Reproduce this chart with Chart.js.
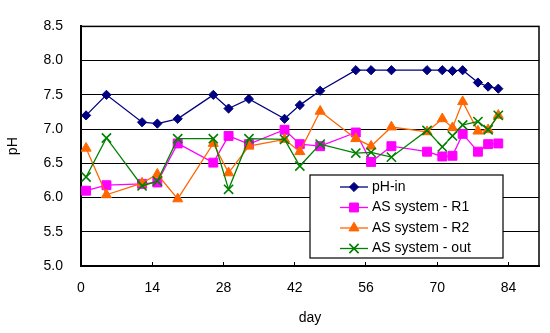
<!DOCTYPE html>
<html>
<head>
<meta charset="utf-8">
<script src="https://cdn.jsdelivr.net/npm/chart.js@4/dist/chart.umd.min.js"></script>
<style>
  body { margin: 0; background: #fff; }
  canvas { display: block; }
</style>
</head>
<body>
<canvas id="phChart" width="550" height="333"></canvas>
<script>
// days of sampling
const days = [1, 5, 12, 15, 19, 26, 29, 33, 40, 43, 47, 54, 57, 61, 68, 71, 73, 75, 78, 80, 82];

const phIn = [7.20, 7.50, 7.10, 7.08, 7.15, 7.50, 7.30, 7.44, 7.15, 7.35, 7.56, 7.86, 7.86, 7.86, 7.86, 7.86, 7.85, 7.86, 7.68, 7.62, 7.59];
const asR1 = [6.10, 6.18, 6.20, 6.22, 6.79, 6.51, 6.90, 6.78, 6.99, 6.78, 6.75, 6.95, 6.52, 6.75, 6.67, 6.60, 6.61, 6.93, 6.67, 6.78, 6.79];
const asR2 = [6.72, 6.04, 6.21, 6.34, 5.98, 6.79, 6.36, 6.75, 6.85, 6.67, 7.26, 6.86, 6.75, 7.03, 6.96, 7.15, 7.02, 7.40, 6.97, 6.99, 7.20];
const asOut = [6.30, 6.87, 6.17, 6.24, 6.86, 6.86, 6.12, 6.86, 6.85, 6.46, 6.78, 6.65, 6.66, 6.59, 6.98, 6.74, 6.90, 7.06, 7.11, 6.99, 7.20];

const seriesNames = ['pH-in', 'AS system - R1', 'AS system - R2', 'AS system - out'];
const xTicks = [0, 14, 28, 42, 56, 70, 84];
const yTicks = [5.0, 5.5, 6.0, 6.5, 7.0, 7.5, 8.0, 8.5];

Chart.defaults.font.family = '"Liberation Sans", Arial, sans-serif';
Chart.defaults.font.size = 14;
Chart.defaults.color = '#000';

function toPoints(values) {
    return values.map((v, i) => ({ x: days[i], y: v }));
}

function makeSeries(label, values, color, style, radius, order) {
    return {
        label: label,
        data: toPoints(values),
        borderColor: color,
        backgroundColor: color,
        borderWidth: 1.3,
        pointStyle: style,
        pointRadius: radius,
        pointBorderWidth: style === 'crossRot' ? 1.6 : 1,
        pointBackgroundColor: color,
        pointBorderColor: color,
        tension: 0,
        order: order
    };
}

// frame round the plot area
const framePlugin = {
    id: 'frame',
    beforeDatasetsDraw(chart) {
        const a = chart.chartArea;
        const ctx = chart.ctx;
        ctx.save();
        ctx.strokeStyle = '#000';
        ctx.lineWidth = 1.5;
        ctx.strokeRect(a.left, a.top, a.right - a.left, a.bottom - a.top);
        ctx.restore();
    }
};

// legend box inside the plot, bottom right
const boxLegend = {
    id: 'boxLegend',
    afterDraw(chart) {
        const ctx = chart.ctx;
        const left = 310, top = 175, w = 193, h = 83;
        ctx.save();
        ctx.fillStyle = '#fff';
        ctx.fillRect(left, top, w, h);
        ctx.strokeStyle = '#000';
        ctx.lineWidth = 1.2;
        ctx.strokeRect(left, top, w, h);
        ctx.font = '14px "Liberation Sans", Arial, sans-serif';
        ctx.textBaseline = 'middle';
        chart.data.datasets.forEach((ds, i) => {
            const y = top + 12 + i * 20.5;
            ctx.strokeStyle = ds.borderColor;
            ctx.lineWidth = ds.borderWidth;
            ctx.beginPath();
            ctx.moveTo(left + 30, y);
            ctx.lineTo(left + 58, y);
            ctx.stroke();
            ctx.fillStyle = ds.pointBackgroundColor;
            ctx.lineWidth = ds.pointBorderWidth;
            Chart.helpers.drawPoint(ctx, {
                pointStyle: ds.pointStyle,
                radius: ds.pointRadius,
                rotation: 0,
                borderWidth: ds.pointBorderWidth
            }, left + 44, y);
            ctx.fillStyle = '#000';
            ctx.fillText(ds.label, left + 62, y);
        });
        ctx.restore();
    }
};

const ctx = document.getElementById('phChart').getContext('2d');

new Chart(ctx, {
    type: 'line',
    data: {
        datasets: [
            makeSeries(seriesNames[0], phIn, '#000080', 'rectRot', 4.6, 3),
            makeSeries(seriesNames[1], asR1, '#FF00FF', 'rect', 6.3, 2),
            makeSeries(seriesNames[2], asR2, '#FF6600', 'triangle', 5.8, 1),
            makeSeries(seriesNames[3], asOut, '#008000', 'crossRot', 6.5, 0)
        ]
    },
    options: {
        responsive: false,
        animation: false,
        layout: { padding: { top: 13, right: 11, bottom: 0, left: 0 } },
        plugins: {
            legend: { display: false },
            tooltip: { enabled: false }
        },
        scales: {
            x: {
                type: 'linear',
                min: 0,
                max: 90,
                afterBuildTicks: scale => { scale.ticks = xTicks.map(v => ({ value: v })); },
                afterFit: scale => { scale.height = 67; },
                grid: {
                    drawOnChartArea: false,
                    drawTicks: true,
                    tickLength: -4,
                    color: '#000',
                    lineWidth: 1
                },
                border: { color: '#000', width: 2 },
                ticks: { padding: 18, maxRotation: 0, autoSkip: false },
                title: {
                    display: true,
                    text: 'day',
                    font: { size: 14 },
                    padding: { top: 0, bottom: 6 }
                }
            },
            y: {
                type: 'linear',
                min: 5,
                max: 8.5,
                afterBuildTicks: scale => { scale.ticks = yTicks.map(v => ({ value: v })); },
                afterFit: scale => { scale.width = 81; },
                grid: {
                    color: '#000',
                    lineWidth: 1,
                    drawTicks: false
                },
                border: { color: '#000', width: 2 },
                ticks: {
                    padding: 18,
                    callback: v => Number(v).toFixed(1)
                },
                title: {
                    display: true,
                    text: 'pH',
                    font: { size: 14 },
                    padding: { top: 5, bottom: 0 }
                }
            }
        }
    },
    plugins: [framePlugin, boxLegend]
});
</script>
</body>
</html>
